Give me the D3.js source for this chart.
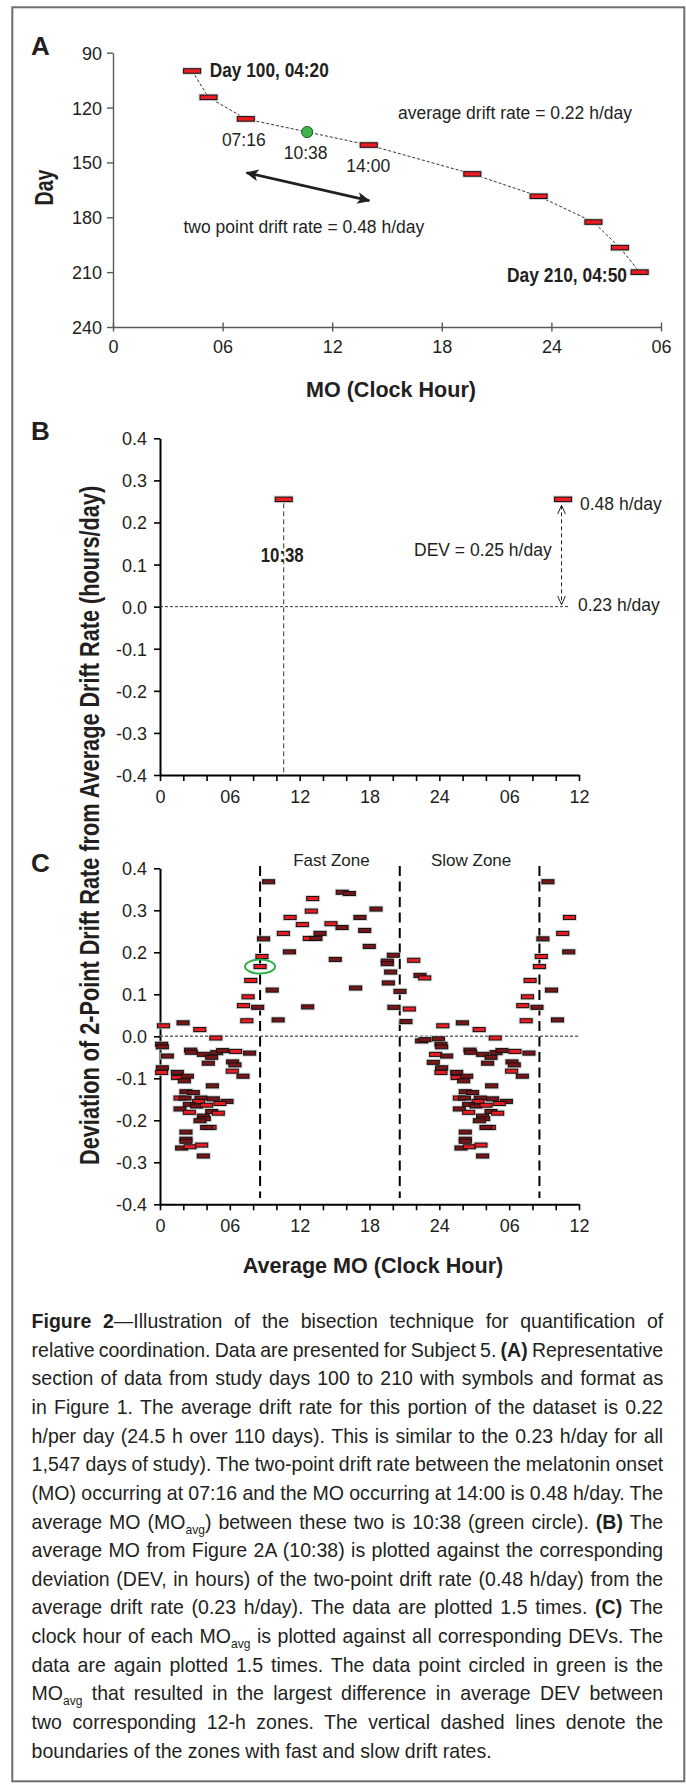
<!DOCTYPE html>
<html>
<head>
<meta charset="utf-8">
<script src="https://cdn.jsdelivr.net/npm/d3@7"></script>
<style>
body { margin: 0; background: #fff; }
svg text { font-family: "Liberation Sans", Arial, sans-serif; fill: #231f20; }
</style>
</head>
<body>
<svg id="fig" width="686" height="1784"></svg>
<script>
// ---- panel A: melatonin onsets, study days 100 to 210
var moHour = [4.33, 5.23, 7.27, 14.0, 19.67, 23.3, 26.3, 27.75, 28.83];
var moDay = [100, 114.4, 126.2, 140.5, 156.3, 168.5, 182.6, 196.6, 210];
var avgHour = 10.63, avgDay = 133.4;   // green circle (MO avg)
var arrowFrom = [7.31, 155.6], arrowTo = [14.03, 170.9];
var dayTicks = [90, 120, 150, 180, 210, 240];
var hourTicksA = [0, 6, 12, 18, 24, 30];
var hourLabelsA = ["0", "06", "12", "18", "24", "06"];

// ---- panel B: one DEV point
var bHour = [10.63];
var bDev = [0.255];

// ---- panel C: clock hour of MO avg, DEV, dark symbol (1) or bright (0)
var cHour = [9.33, 13.12, 15.66, 16.27, 13.0, 18.56, 11.18, 17.18, 12.23, 14.69,
  15.64, 17.59, 10.6, 13.75, 8.9, 12.83, 13.4, 17.98, 11.12, 8.76,
  15.06, 8.6, 7.8, 9.64, 16.81, 7.57, 7.17, 8.39, 12.69, 7.46,
  10.15, 0.3, 1.98, 3.42, 4.8, 20.05, 19.53, 19.53, 19.82, 19.62,
  20.62, 20.1, 21.8, 22.34, 22.74, 21.42, 21.13,
  0.14, 0.2, 0.63, 2.63, 2.69, 3.72, 4.44, 4.87, 5.38, 6.5,
  7.7, 4.15, 6.24, 6.44, 0.2, 0.14, 1.49, 1.52, 2.35, 2.09,
  6.21, 7.13, 4.5, 2.23, 2.86, 1.72, 2.15, 3.52, 4.58, 5.76,
  3.32, 2.52, 3.15, 4.01, 5.15, 1.72, 2.52, 4.44, 5.01, 3.72,
  3.81, 3.44, 4.3, 4.01, 2.23, 2.23, 2.23, 1.86, 2.58, 3.58,
  3.72, 22.48, 22.77, 23.92, 23.68, 23.48];
var cDev = [0.368, 0.328, 0.343, 0.340, 0.298, 0.303, 0.283, 0.283, 0.266, 0.268,
  0.259, 0.252, 0.245, 0.245, 0.232, 0.233, 0.233, 0.214, 0.201, 0.190,
  0.183, 0.166, 0.133, 0.110, 0.115, 0.094, 0.073, 0.069, 0.070, 0.037,
  0.039, 0.025, 0.032, 0.016, -0.004, 0.193, 0.179, 0.173, 0.153, 0.127,
  0.107, 0.069, 0.181, 0.145, 0.139, 0.065, 0.035,
  -0.019, -0.025, -0.047, -0.033, -0.038, -0.043, -0.050, -0.039, -0.034, -0.036,
  -0.040, -0.064, -0.061, -0.068, -0.075, -0.086, -0.086, -0.098, -0.095, -0.106,
  -0.083, -0.095, -0.118, -0.132, -0.134, -0.147, -0.147, -0.147, -0.149, -0.155,
  -0.155, -0.162, -0.166, -0.164, -0.160, -0.173, -0.181, -0.179, -0.183, -0.190,
  -0.196, -0.201, -0.217, -0.217, -0.228, -0.245, -0.250, -0.266, -0.263, -0.259,
  -0.285, -0.011, -0.008, -0.006, -0.043, -0.062];
var cDark = [1, 0, 1, 1, 0, 1, 0, 1, 0, 0,
  1, 1, 0, 1, 1, 0, 1, 1, 1, 0,
  1, 0, 0, 1, 1, 0, 0, 1, 1, 0,
  1, 0, 1, 0, 0, 1, 1, 1, 1, 1,
  1, 1, 0, 1, 0, 0, 1,
  1, 1, 1, 1, 1, 1, 1, 1, 1, 0,
  1, 1, 1, 1, 1, 0, 1, 0, 1, 1,
  0, 1, 1, 1, 1, 0, 1, 1, 1, 1,
  0, 1, 1, 0, 0, 1, 0, 1, 0, 1,
  1, 1, 0, 1, 1, 1, 1, 1, 0, 0,
  1, 1, 1, 1, 0, 1];
var circledIndex = 21;
var zoneBounds = [8.6, 20.6, 32.6];
var zoneNames = ["Fast Zone", "Slow Zone"];

var devTicks = [-0.4, -0.3, -0.2, -0.1, 0, 0.1, 0.2, 0.3, 0.4];
var devLabels = ["-0.4", "-0.3", "-0.2", "-0.1", "0.0", "0.1", "0.2", "0.3", "0.4"];
var hourTicksBC = [0, 2, 4, 6, 8, 10, 12, 14, 16, 18, 20, 22, 24, 26, 28, 30, 32, 34, 36];
var hourLabelsBC = ["0", "06", "12", "18", "24", "06", "12"];

var captionLines = [
  "**Figure 2**—Illustration of the bisection technique for quantification of",
  "relative coordination. Data are presented for Subject 5. **(A)** Representative",
  "section of data from study days 100 to 210 with symbols and format as",
  "in Figure 1. The average drift rate for this portion of the dataset is 0.22",
  "h/per day (24.5 h over 110 days). This is similar to the 0.23 h/day for all",
  "1,547 days of study). The two-point drift rate between the melatonin onset",
  "(MO) occurring at 07:16 and the MO occurring at 14:00 is 0.48 h/day. The",
  "average MO (MO__avg__) between these two is 10:38 (green circle). **(B)** The",
  "average MO from Figure 2A (10:38) is plotted against the corresponding",
  "deviation (DEV, in hours) of the two-point drift rate (0.48 h/day) from the",
  "average drift rate (0.23 h/day). The data are plotted 1.5 times. **(C)** The",
  "clock hour of each MO__avg__ is plotted against all corresponding DEVs. The",
  "data are again plotted 1.5 times. The data point circled in green is the",
  "MO__avg__ that resulted in the largest difference in average DEV between",
  "two corresponding 12-h zones. The vertical dashed lines denote the",
  "boundaries of the zones with fast and slow drift rates."
];

var ink = "#231f20", red = "#ec1c24", darkRed = "#7a1518";
var svg = d3.select("#fig");

svg.append("rect")
  .attr("x", 12.3).attr("y", 7.3).attr("width", 672).attr("height", 1774)
  .attr("fill", "none").attr("stroke", "#6d6e71").attr("stroke-width", 2);

var defs = svg.append("defs");
defs.append("marker").attr("id", "solidHead")
  .attr("viewBox", "0 -6 12 12").attr("refX", 11).attr("refY", 0)
  .attr("markerWidth", 13).attr("markerHeight", 13)
  .attr("markerUnits", "userSpaceOnUse").attr("orient", "auto-start-reverse")
  .append("path").attr("d", "M0,-5.5L12,0L0,5.5L3,0Z").attr("fill", ink);
defs.append("marker").attr("id", "openHead")
  .attr("viewBox", "0 -5 10 10").attr("refX", 9).attr("refY", 0)
  .attr("markerWidth", 10).attr("markerHeight", 10)
  .attr("markerUnits", "userSpaceOnUse").attr("orient", "auto-start-reverse")
  .append("path").attr("d", "M0,-4L9,0L0,4").attr("fill", "none")
  .attr("stroke", ink).attr("stroke-width", 1);

// red bar symbols with a grey halo
function symbols(g, pts, x, y, w, h) {
  g.selectAll(null).data(pts).enter().append("rect")
    .attr("x", d => x(d.h) - w / 2 - 1.5).attr("y", d => y(d.v) - h / 2 - 1.5)
    .attr("width", w + 3).attr("height", h + 3)
    .attr("fill", "#c9c9c9").attr("opacity", 0.8);
  g.selectAll(null).data(pts).enter().append("rect")
    .attr("x", d => x(d.h) - w / 2).attr("y", d => y(d.v) - h / 2)
    .attr("width", w).attr("height", h)
    .attr("fill", d => d.dark ? darkRed : red)
    .attr("stroke", "#111").attr("stroke-width", 1);
}

function label(g, txt, x, y, size, opts) {
  opts = opts || {};
  var t = g.append("text").attr("x", x).attr("y", y).attr("font-size", size)
    .attr("text-anchor", opts.anchor || "start").text(txt);
  if (opts.bold) t.attr("font-weight", "bold");
  if (opts.len) t.attr("textLength", opts.len).attr("lengthAdjust", "spacingAndGlyphs");
  if (opts.transform) t.attr("transform", opts.transform);
  return t;
}

// ================= panel A
var xA = d3.scaleLinear().domain([0, 30]).range([113, 661]);
var yA = d3.scaleLinear().domain([90, 240]).range([52.7, 327]);
var gA = svg.append("g");

var axAy = gA.append("g").attr("transform", "translate(113,0)")
  .call(d3.axisLeft(yA).tickValues(dayTicks).tickSize(6).tickSizeOuter(0).tickPadding(5));
var axAx = gA.append("g").attr("transform", "translate(0,327)")
  .call(d3.axisBottom(xA).tickValues(hourTicksA).tickFormat((d, i) => hourLabelsA[i])
    .tickSize(4.5).tickSizeOuter(0));
axAx.selectAll(".tick line").attr("y1", -4.5);
axAx.selectAll(".tick text").attr("y", 25.5).attr("dy", null);
axAy.selectAll(".tick text").attr("dy", "0.36em");
[axAy, axAx].forEach(function (a) {
  a.select(".domain").attr("stroke", "#58595b").attr("stroke-width", 1.4);
  a.selectAll(".tick line").attr("stroke", "#58595b").attr("stroke-width", 1.4);
  a.selectAll(".tick text").attr("font-size", 18);
});

var lineA = d3.line().x(d => xA(d[0])).y(d => yA(d[1]));
gA.append("path").datum(d3.zip(moHour, moDay)).attr("d", lineA)
  .attr("fill", "none").attr("stroke", "#333").attr("stroke-width", 1)
  .attr("stroke-dasharray", "3,2");

gA.append("path").datum([arrowFrom, arrowTo]).attr("d", lineA)
  .attr("fill", "none").attr("stroke", ink).attr("stroke-width", 2.6)
  .attr("marker-start", "url(#solidHead)").attr("marker-end", "url(#solidHead)");

symbols(gA, moHour.map((h, i) => ({h: h, v: moDay[i], dark: 0})), xA, yA, 17, 4.5);

gA.append("circle").attr("cx", xA(avgHour)).attr("cy", yA(avgDay)).attr("r", 5.6)
  .attr("fill", "#3fb54a").attr("stroke", "#1e5f2b").attr("stroke-width", 1);

label(gA, "Day 100, 04:20", 209.8, 77.3, 19.5, {bold: true, len: 119});
label(gA, "average drift rate = 0.22 h/day", 398, 119.3, 17.5);
label(gA, "07:16", xA(moHour[2]) - 2, 145.5, 17.5, {anchor: "middle"});
label(gA, "10:38", xA(avgHour) - 1.5, 159.3, 17.5, {anchor: "middle"});
label(gA, "14:00", xA(moHour[3]) - 0.5, 171.5, 17.5, {anchor: "middle"});
label(gA, "two point drift rate = 0.48 h/day", 183.5, 233.3, 17.5);
label(gA, "Day 210, 04:50", 627, 281.7, 19.5, {bold: true, len: 120, anchor: "end"});

label(svg, "A", 31, 55, 26, {bold: true});
label(svg, "Day", 0, 0, 25, {bold: true, len: 36, anchor: "middle",
  transform: "translate(53,187.5) rotate(-90)"});
label(svg, "MO (Clock Hour)", 391, 397.3, 22, {bold: true, len: 170, anchor: "middle"});

// ================= shared B / C axes
function devAxes(g, x, y) {
  var ay = g.append("g").attr("transform", "translate(" + x.range()[0] + ",0)")
    .call(d3.axisLeft(y).tickValues(devTicks).tickFormat((d, i) => devLabels[i])
      .tickSize(6).tickSizeOuter(0).tickPadding(7));
  var ax = g.append("g").attr("transform", "translate(0," + y.range()[0] + ")")
    .call(d3.axisBottom(x).tickValues(hourTicksBC)
      .tickFormat(d => d % 6 === 0 ? hourLabelsBC[d / 6] : "")
      .tickSize(6).tickSizeOuter(0));
  ax.selectAll(".tick text").attr("y", 27.5).attr("dy", null);
  ay.selectAll(".tick text").attr("dy", "0.36em");
  [ay, ax].forEach(function (a) {
    a.select(".domain").attr("stroke", "#000").attr("stroke-width", 2);
    a.selectAll(".tick line").attr("stroke", "#000").attr("stroke-width", 1.6);
    a.selectAll(".tick text").attr("font-size", 18);
  });
}

// ================= panel B
var xB = d3.scaleLinear().domain([0, 36]).range([160, 579]);
var yB = d3.scaleLinear().domain([-0.4, 0.4]).range([775, 438.3]);
var gB = svg.append("g");
devAxes(gB, xB, yB);

var bPts = bHour.map((h, i) => ({h: h, v: bDev[i], dark: 0}));
bPts = bPts.concat(bPts.filter(d => d.h < 12).map(d => ({h: d.h + 24, v: d.v, dark: d.dark})));

gB.append("line").attr("x1", xB(0)).attr("x2", xB(35.2)).attr("y1", yB(0)).attr("y2", yB(0))
  .attr("stroke", "#333").attr("stroke-width", 1).attr("stroke-dasharray", "3,2");
gB.append("line").attr("x1", xB(bHour[0])).attr("x2", xB(bHour[0]))
  .attr("y1", yB(bDev[0]) + 4).attr("y2", yB(-0.4))
  .attr("stroke", "#333").attr("stroke-width", 1).attr("stroke-dasharray", "5,3");
gB.append("line").attr("x1", xB(34.5)).attr("x2", xB(34.5))
  .attr("y1", yB(bDev[0]) + 6).attr("y2", yB(0) - 2)
  .attr("stroke", ink).attr("stroke-width", 1).attr("stroke-dasharray", "4,3")
  .attr("marker-start", "url(#openHead)").attr("marker-end", "url(#openHead)");

symbols(gB, bPts, xB, yB, 17, 4.5);

label(gB, "10:38", xB(bHour[0]) - 1.5, 562, 20, {bold: true, len: 43, anchor: "middle"});
label(gB, "DEV = 0.25 h/day", 414, 556, 17.5);
label(gB, "0.48 h/day", 580, 509.5, 17.5);
label(gB, "0.23 h/day", 578, 610.5, 17.5);
label(svg, "B", 31, 440, 26, {bold: true});

// ================= panel C
var xC = d3.scaleLinear().domain([0, 36]).range([160, 579]);
var yC = d3.scaleLinear().domain([-0.4, 0.4]).range([1204.3, 868.3]);
var gC = svg.append("g");
devAxes(gC, xC, yC);

// data are plotted 1.5 times: hours 0-12 repeated at 24-36
var cPts = cHour.map((h, i) => ({h: h, v: cDev[i], dark: cDark[i]}));
cPts = cPts.concat(cPts.filter(d => d.h < 12).map(d => ({h: d.h + 24, v: d.v, dark: d.dark})));

gC.append("line").attr("x1", xC(0)).attr("x2", xC(36)).attr("y1", yC(0)).attr("y2", yC(0))
  .attr("stroke", "#666").attr("stroke-width", 1.5).attr("stroke-dasharray", "3,2");
gC.selectAll(null).data(zoneBounds).enter().append("line")
  .attr("x1", d => xC(d)).attr("x2", d => xC(d))
  .attr("y1", 866).attr("y2", 1198)
  .attr("stroke", "#000").attr("stroke-width", 2).attr("stroke-dasharray", "10,5.5");

symbols(gC, cPts, xC, yC, 12, 4);

gC.append("ellipse")
  .attr("cx", xC(cHour[circledIndex])).attr("cy", yC(cDev[circledIndex]))
  .attr("rx", 15).attr("ry", 7)
  .attr("fill", "none").attr("stroke", "#2bb24c").attr("stroke-width", 2);

zoneNames.forEach(function (n, i) {
  label(gC, n, xC((zoneBounds[i] + zoneBounds[i + 1]) / 2) + 1.5, 866, 17, {anchor: "middle"});
});

label(svg, "C", 31, 871.5, 26, {bold: true});
label(svg, "Average MO (Clock Hour)", 373, 1273, 22, {bold: true, len: 260.5, anchor: "middle"});
label(svg, "Deviation of 2-Point Drift Rate from Average Drift Rate (hours/day)", 0, 0, 27,
  {bold: true, len: 679, anchor: "middle", transform: "translate(99,825.4) rotate(-90)"});

// ================= caption, justified
var capX = 31.6, capW = 631.6, capScale = 0.93, capTop = 1328, capStep = 28.65;
var gCap = svg.append("g").attr("transform", "translate(" + capX + ",0) scale(" + capScale + ",1)");
captionLines.forEach(function (line, i) {
  var t = gCap.append("text").attr("x", 0).attr("y", capTop + i * capStep).attr("font-size", 21);
  var shift = 0;
  line.split(/(\*\*.+?\*\*|__.+?__)/).filter(s => s.length).forEach(function (p) {
    var s;
    if (p.indexOf("**") === 0) {
      s = t.append("tspan").attr("font-weight", "bold").text(p.slice(2, -2));
    } else if (p.indexOf("__") === 0) {
      s = t.append("tspan").attr("font-size", 13).attr("dy", 5).text(p.slice(2, -2));
      shift = -5;
      return;
    } else {
      s = t.append("tspan").text(p);
    }
    if (shift) { s.attr("dy", shift); shift = 0; }
  });
  if (i < captionLines.length - 1) {
    var natural = t.node().getComputedTextLength();
    var spaces = (line.match(/ /g) || []).length;
    t.style("word-spacing", ((capW / capScale - natural) / spaces) + "px");
  }
});
</script>
</body>
</html>
